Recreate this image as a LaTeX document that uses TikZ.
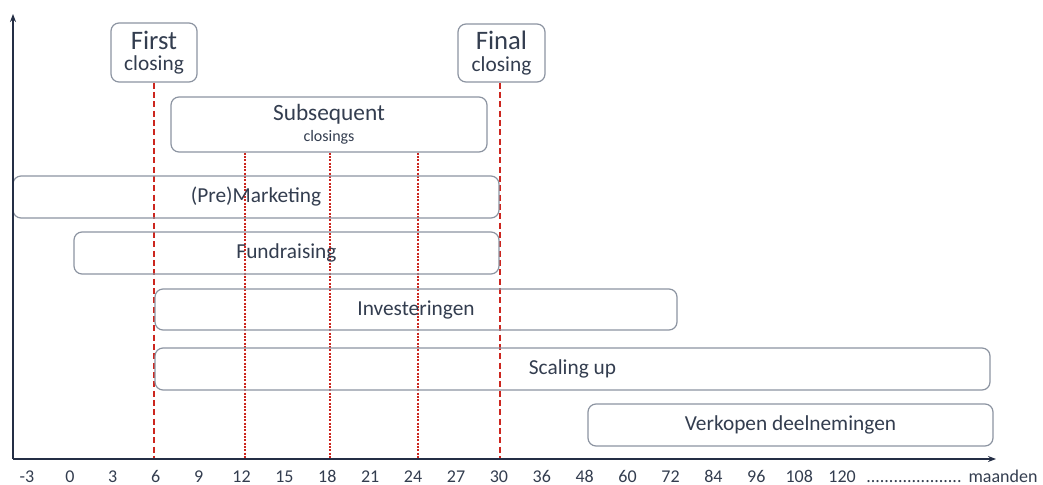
\documentclass[tikz,border=0pt]{standalone}
\usepackage{fontspec}
\setmainfont{Carlito}
\usetikzlibrary{arrows.meta}
\usetikzlibrary{positioning}
\definecolor{ctext}{rgb}{0.20, 0.24, 0.31}
\definecolor{cframe}{rgb}{0.55, 0.58, 0.63}
\definecolor{caxis}{rgb}{0.14, 0.18, 0.27}
\definecolor{cred}{rgb}{0.80, 0.15, 0.12}

\begin{document}
\begin{tikzpicture}[x=0.75pt, y=-0.75pt,
    every node/.style={text=ctext},
    phase/.style={draw=cframe, line width=0.9pt, rounded corners=6pt},
    closingbox/.style={draw=cframe, line width=0.9pt, rounded corners=6pt, align=center, inner sep=0pt},
    closeline/.style={cred, line width=1.1pt, dash pattern=on 4.5pt off 2.5pt},
    subline/.style={cred, line width=1.1pt, dash pattern=on 1.5pt off 1pt},
    axis/.style={caxis, line width=1.5pt, -{Stealth[length=6pt, width=4.5pt]}},
    ticklabel/.style={anchor=base, font=\fontsize{13.5}{15}\selectfont}]
  \useasboundingbox (0, 0) rectangle (1043, 485);

  \coordinate (o) at (13, 459);
  \coordinate (t6) at (154, 459);
  \coordinate (t12) at (245, 459);
  \coordinate (t18) at (330, 459);
  \coordinate (t24) at (418, 459);
  \coordinate (t30) at (500, 459);

  % closings
  \node [closingbox, minimum width=86*0.75pt, minimum height=59*0.75pt] (first) at (154, 52.5)
    {{\fontsize{20}{20}\selectfont First}\\[4pt]{\fontsize{16}{16}\selectfont closing}};
  \node [closingbox, minimum width=87*0.75pt, minimum height=58*0.75pt] (final) at (501.5, 53)
    {{\fontsize{20}{20}\selectfont Final}\\[4pt]{\fontsize{16}{16}\selectfont closing}};
  \node [closingbox, minimum width=316*0.75pt, minimum height=55*0.75pt] (sub) at (329, 124.5)
    {{\fontsize{17.5}{17.5}\selectfont Subsequent}\\[4pt]{\fontsize{12}{12}\selectfont closings}};

  \draw [closeline] (t6 |- first.south) -- (t6);
  \draw [closeline] (t30 |- final.south) -- (t30);
  \draw [subline] (t12 |- sub.south) -- (t12);
  \draw [subline] (t18 |- sub.south) -- (t18);
  \draw [subline] (t24 |- sub.south) -- (t24);

  % phases
  \draw [phase] (13, 176) rectangle (499, 218) node[midway, font=\fontsize{16}{18}\selectfont] (mkt) {(Pre)Marketing};
  \draw [phase] (74, 232) rectangle (499, 274) node[midway, font=\fontsize{16}{18}\selectfont] (fund) {Fundraising};
  \draw [phase] (155, 289) rectangle (677, 330) node[midway, font=\fontsize{16}{18}\selectfont] (inv) {Investeringen};
  \draw [phase] (155, 348) rectangle (990, 390) node[midway, font=\fontsize{16}{18}\selectfont] (scale) {Scaling up};
  \draw [phase] (588, 404) rectangle (993, 446) node[midway, font=\fontsize{16}{18}\selectfont] (sell) {Verkopen deelnemingen};

  % axes
  \draw [axis] (o) -- (13, 14);
  \draw [axis] (o) -- (996, 459);

  \foreach \lab [count=\i from 0] in {-3,0,3,6,9,12,15,18,21,24,27,30,36,48,60,72,84,96,108,120}
    \node [ticklabel] (tick\i) at (27+42.9*\i, 482) {\lab};
  \node [ticklabel] (dots) at (914, 482) {.....................};
  \node [ticklabel] (unit) at (1003, 482) {maanden};
\end{tikzpicture}
\end{document}
